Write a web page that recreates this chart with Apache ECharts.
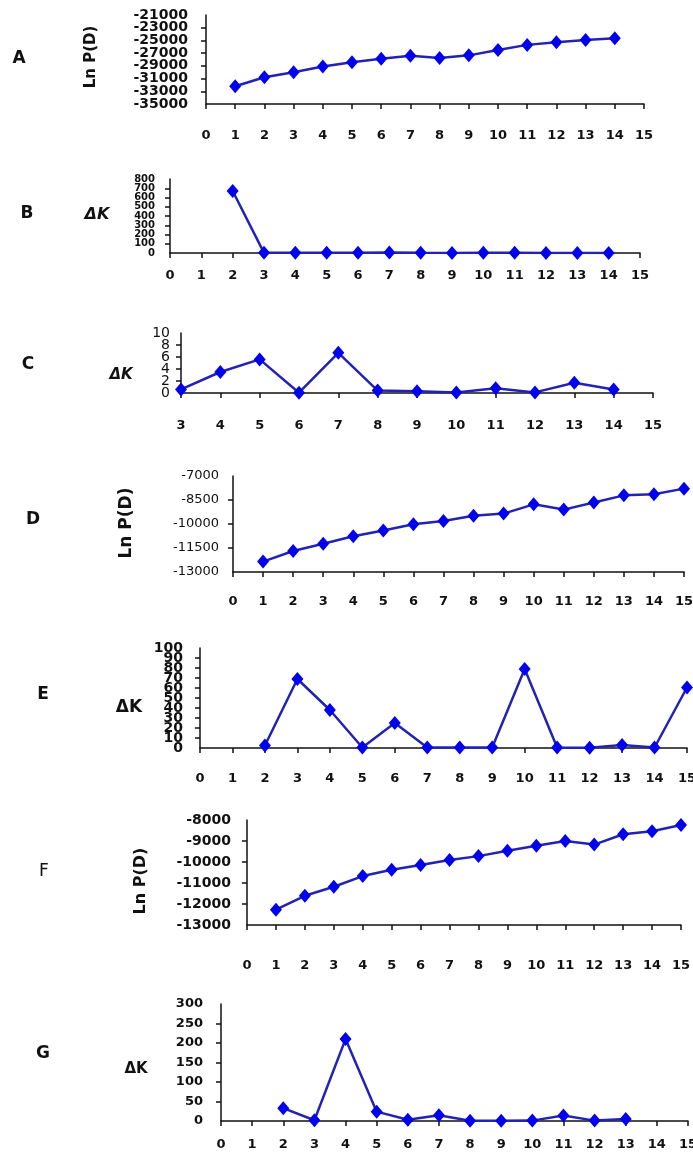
<!DOCTYPE html>
<html><head><meta charset="utf-8">
<script src="https://cdn.jsdelivr.net/npm/echarts@6/dist/echarts.min.js"></script>
<style>html,body{margin:0;padding:0;background:#fff}#c{width:693px;height:1162px}</style>
</head><body><div id="c"></div>
<script>
// ---- data ----
const kA = [1,2,3,4,5,6,7,8,9,10,11,12,13,14];
const lnPA = [-32200,-30800,-30000,-29100,-28450,-27900,-27400,-27750,-27350,-26500,-25700,-25300,-24950,-24650];

const kB = [2,3,4,5,6,7,8,9,10,11,12,13,14];
const dKB = [670,2,3,4,2,6,2,1,2,2,1,1,1];

const kC = [3,4,5,6,7,8,9,10,11,12,13,14];
const dKC = [0.6,3.5,5.6,0.05,6.7,0.4,0.3,0.1,0.8,0.1,1.7,0.6];

const kD = [1,2,3,4,5,6,7,8,9,10,11,12,13,14,15];
const lnPD = [-12350,-11690,-11230,-10770,-10400,-10020,-9810,-9480,-9350,-8770,-9100,-8660,-8210,-8140,-7790];

const kE = [2,3,4,5,6,7,8,9,10,11,12,13,14,15];
const dKE = [2.5,69,38,0.5,25,0.5,0.5,0.5,79,0.5,0.3,3,0.5,60.5];

const kF = [1,2,3,4,5,6,7,8,9,10,11,12,13,14,15];
const lnPF = [-12270,-11610,-11180,-10670,-10370,-10140,-9900,-9720,-9460,-9230,-9000,-9170,-8680,-8540,-8240];

const kG = [2,3,4,5,6,7,8,9,10,11,12,13];
const dKG = [33,2,210,24,3,15,0.5,0.5,1,14,1,5];

// axis ranges [min, max, interval]
const xRangeA = [0,15,1], yRangeA = [-35000,-21000,2000];
const xRangeB = [0,15,1], yRangeB = [0,800,100];
const xRangeC = [3,15,1], yRangeC = [0,10,2];
const xRangeD = [0,15,1], yRangeD = [-13000,-7000,1500];
const xRangeE = [0,15,1], yRangeE = [0,100,10];
const xRangeF = [0,15,1], yRangeF = [-13000,-8000,1000];
const xRangeG = [0,15,1], yRangeG = [0,300,50];

const panelLetters = ['A','B','C','D','E','F','G'];
const lnTitle = 'Ln P(D)';
const dkTitle = 'ΔK';

// ---- layout / style ----
const FONT = '"DejaVu Sans", Verdana, sans-serif';
const panels = [
  {k:kA, v:lnPA, xr:xRangeA, yr:yRangeA, grid:{left:206,top:15,width:438,height:89}, yFont:14, yW:'bold', yMargin:18, xMargin:25},
  {k:kB, v:dKB, xr:xRangeB, yr:yRangeB, grid:{left:170,top:179,width:470,height:74}, yFont:10, yW:'bold', yMargin:15, xMargin:16},
  {k:kC, v:dKC, xr:xRangeC, yr:yRangeC, grid:{left:181,top:333,width:472,height:60}, yFont:14, yW:'normal', yMargin:11, xMargin:26},
  {k:kD, v:lnPD, xr:xRangeD, yr:yRangeD, grid:{left:233,top:476,width:451,height:96}, yFont:13, yW:'normal', yMargin:14, xMargin:23},
  {k:kE, v:dKE, xr:xRangeE, yr:yRangeE, grid:{left:200,top:648,width:487,height:100}, yFont:14, yW:'bold', yMargin:17, xMargin:24},
  {k:kF, v:lnPF, xr:xRangeF, yr:yRangeF, grid:{left:247,top:820,width:434,height:105}, yFont:14, yW:'bold', yMargin:16, xMargin:34},
  {k:kG, v:dKG, xr:xRangeG, yr:yRangeG, grid:{left:221,top:1004,width:467,height:117}, yFont:13, yW:'bold', yMargin:18, xMargin:17}
];

const letterPos = [[19,59],[27,214],[28,365],[33,520],[43,695],[44,872],[43,1054]];
const titles = [
  {t:lnTitle, x:91, y:57, rot:true, size:15, italic:false},
  {t:dkTitle, x:97, y:215, rot:false, size:16, italic:true},
  {t:dkTitle, x:121, y:375, rot:false, size:15, italic:true},
  {t:lnTitle, x:127, y:523, rot:true, size:17, italic:false},
  {t:dkTitle, x:129, y:708, rot:false, size:17, italic:false},
  {t:lnTitle, x:141, y:881, rot:true, size:16, italic:false},
  {t:dkTitle, x:136, y:1069, rot:false, size:15, italic:false}
];

const axisLine = {show:true, onZero:false, lineStyle:{color:'#111', width:1.5}};
const axisTick = {show:true, inside:false, length:5, lineStyle:{color:'#111', width:1.5}};
const plain = v => String(v);

const grid = [], xAxis = [], yAxis = [], series = [];
panels.forEach((p, i) => {
  grid.push(Object.assign({containLabel:false, outerBoundsMode:'none'}, p.grid));
  xAxis.push({
    type:'value', gridIndex:i, min:p.xr[0], max:p.xr[1], interval:p.xr[2],
    axisLine, axisTick, splitLine:{show:false},
    axisLabel:{show:true, margin:p.xMargin, color:'#111', fontFamily:FONT, fontSize:13, fontWeight:'bold', formatter:plain, hideOverlap:false, showMinLabel:true, showMaxLabel:true}
  });
  const yLabelBase = {show:true, margin:p.yMargin, color:'#111', fontFamily:FONT, fontSize:p.yFont, fontWeight:p.yW, hideOverlap:false};
  // main axis: carries the data, line, ticks and inner labels
  yAxis.push({
    type:'value', gridIndex:i, min:p.yr[0], max:p.yr[1], interval:p.yr[2],
    axisLine, axisTick, splitLine:{show:false},
    axisLabel:Object.assign({formatter:plain, showMinLabel:false, showMaxLabel:false}, yLabelBase)
  });
  // overlay axis on the same spot: only the end labels
  const lo = p.yr[0], hi = p.yr[1];
  yAxis.push({
    type:'value', gridIndex:i, position:'left', offset:0, min:lo, max:hi, interval:p.yr[2],
    axisLine:{show:false}, axisTick:{show:false}, splitLine:{show:false},
    axisLabel:Object.assign({formatter:v => (v === lo || v === hi) ? String(v) : '', showMinLabel:true, showMaxLabel:true}, yLabelBase)
  });
  series.push({
    type:'line', xAxisIndex:i, yAxisIndex:2*i,
    data:p.k.map((k, j) => [k, p.v[j]]),
    symbol:'diamond', symbolSize:[12,14], showSymbol:true,
    lineStyle:{color:'#2222B4', width:2.5},
    itemStyle:{color:'#0000EE', borderWidth:0},
    animation:false, silent:true
  });
});

const graphic = [];
panelLetters.forEach((L, i) => {
  graphic.push({type:'text', x:letterPos[i][0], y:letterPos[i][1],
    style:{text:L, fill:'#111', font:(i===5?'normal ':'bold ') + '17px ' + FONT, align:'center', verticalAlign:'middle'}});
});
titles.forEach(t => {
  graphic.push({type:'text', x:t.x, y:t.y, rotation:t.rot ? Math.PI/2 : 0,
    style:{text:t.t, fill:'#111', font:(t.italic?'italic ':'') + 'bold ' + t.size + 'px ' + FONT, align:'center', verticalAlign:'middle'}});
});

const chart = echarts.init(document.getElementById('c'), null, {renderer:'canvas'});
chart.setOption({backgroundColor:'#fff', animation:false, grid, xAxis, yAxis, series, graphic, tooltip:{show:false}});
</script>
</body></html>
